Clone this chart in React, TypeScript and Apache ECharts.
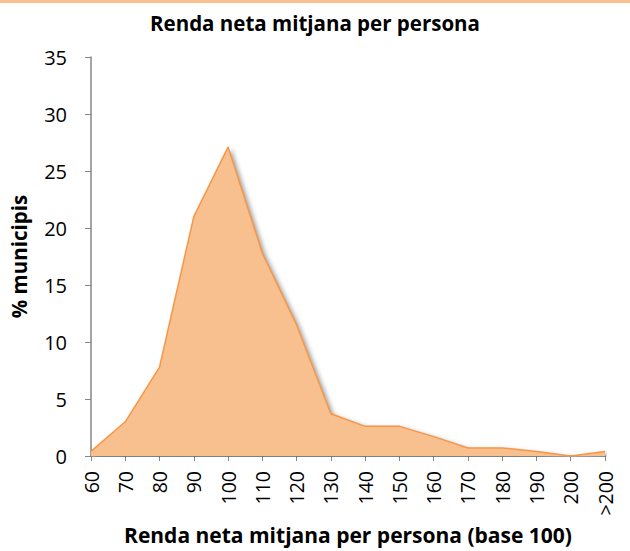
import React, { useEffect, useRef } from "react";
import * as echarts from "echarts";

const categories = ["60", "70", "80", "90", "100", "110", "120", "130", "140", "150", "160", "170", "180", "190", "200", ">200"];
const values = [0.4, 3.0, 7.8, 21.0, 27.1, 17.8, 11.5, 3.7, 2.6, 2.6, 1.7, 0.7, 0.7, 0.4, 0.0, 0.4];
const yTicks = { min: 0, max: 35, interval: 5 };

const FONT = "'Open Sans', 'Noto Sans', sans-serif";

export default function App() {
  const ref = useRef<HTMLDivElement>(null);
  useEffect(() => {
    document.body.style.margin = "0";
    const chart = echarts.init(ref.current!, undefined, { renderer: "svg" });
    chart.setOption({
      animation: false,
      backgroundColor: "#ffffff",
      title: {
        text: "Renda neta mitjana per persona",
        left: "center",
        top: 7,
        textStyle: { fontFamily: FONT, fontSize: 20.5, fontWeight: "bold", color: "#000" },
      },
      graphic: [
        { type: "rect", left: 0, top: 0, shape: { width: 630, height: 3 }, style: { fill: "#fac090" } },
      ],
      grid: { left: 89, right: 25, top: 57, bottom: 95, containLabel: false },
      xAxis: {
        type: "category",
        data: categories,
        boundaryGap: false,
        name: "Renda neta mitjana per persona (base 100)",
        nameLocation: "middle",
        nameGap: 68,
        nameTextStyle: { fontFamily: FONT, fontSize: 21, fontWeight: "bold", color: "#000" },
        axisLine: { lineStyle: { color: "#868686", width: 1.5 } },
        axisTick: { show: true, length: 5, alignWithLabel: true, lineStyle: { color: "#868686" } },
        axisLabel: { rotate: 90, fontFamily: FONT, fontSize: 19.5, color: "#000", margin: 15, interval: 0 },
        splitLine: { show: false },
      },
      yAxis: {
        type: "value",
        min: yTicks.min,
        max: yTicks.max,
        interval: yTicks.interval,
        name: "% municipis",
        nameLocation: "middle",
        nameGap: 62,
        nameTextStyle: { fontFamily: FONT, fontSize: 20.5, fontWeight: "bold", color: "#000" },
        axisLine: { show: true, lineStyle: { color: "#868686", width: 1.5 } },
        axisTick: { show: true, length: 6, lineStyle: { color: "#868686" } },
        axisLabel: { fontFamily: FONT, fontSize: 20, color: "#000", margin: 24 },
        splitLine: { show: false },
      },
      series: [
        {
          type: "line",
          data: values,
          symbol: "none",
          z: 3,
          lineStyle: { color: "#f79646", width: 1.5 },
          areaStyle: {
            color: "#f9c08f",
            opacity: 1,
            shadowColor: "rgba(0,0,0,0.4)",
            shadowBlur: 5,
            shadowOffsetX: 3,
            shadowOffsetY: 2,
          },
        },
      ],
    });
    return () => chart.dispose();
  }, []);
  return <div ref={ref} style={{ position: "fixed", left: 0, top: 0, width: 630, height: 551 }} />;
}
